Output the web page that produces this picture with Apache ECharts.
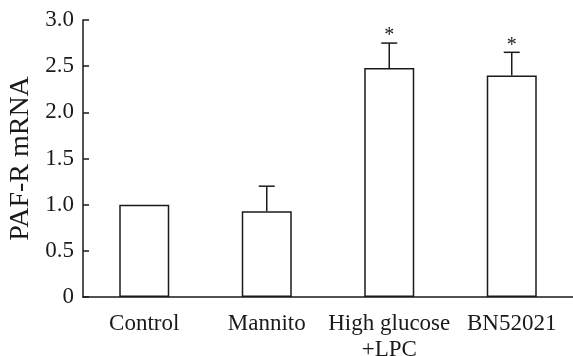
<!DOCTYPE html>
<html>
<head>
<meta charset="utf-8">
<script src="https://cdn.jsdelivr.net/npm/echarts@6/dist/echarts.min.js"></script>
<style>
  html, body { margin: 0; padding: 0; background: #fff; }
  #chart { width: 573px; height: 356px; }
</style>
</head>
<body>
<div id="chart"></div>
<script>
const categories = ['Control', 'Mannito', 'High glucose\n+LPC', 'BN52021'];
const means = [1.0, 0.93, 2.48, 2.40];
const errors = [0, 0.27, 0.27, 0.25];
const marks = ['', '', '*', '*'];

const INK = '#1a1a1a';
const FONT = '"Liberation Serif", "Times New Roman", serif';

const chart = echarts.init(document.getElementById('chart'), null, { renderer: 'canvas' });

chart.setOption({
  animation: false,
  backgroundColor: '#fff',
  grid: { left: 83, right: 0, top: 20, bottom: 59, containLabel: false, outerBoundsMode: 'none' },
  xAxis: {
    type: 'category',
    data: categories,
    boundaryGap: true,
    axisLine: { lineStyle: { color: INK, width: 1.5 } },
    axisTick: { inside: true, length: 6, lineStyle: { color: INK, width: 1.5 } },
    axisLabel: { color: INK, fontFamily: FONT, fontSize: 23, lineHeight: 26, margin: 14, interval: 0 },
    splitLine: { show: false }
  },
  yAxis: {
    type: 'value',
    min: 0,
    max: 3,
    interval: 0.5,
    name: 'PAF-R mRNA',
    nameLocation: 'middle',
    nameGap: 48,
    nameTextStyle: { color: INK, fontFamily: FONT, fontSize: 28 },
    axisLine: { show: true, lineStyle: { color: INK, width: 1.5 } },
    axisTick: { show: true, inside: true, length: 6, lineStyle: { color: INK, width: 1.5 } },
    axisLabel: {
      color: INK, fontFamily: FONT, fontSize: 23, margin: 9,
      formatter: (v) => (v === 0 ? '0' : v.toFixed(1))
    },
    splitLine: { show: false }
  },
  series: [
    {
      type: 'bar',
      data: means,
      barWidth: 50,
      itemStyle: { color: '#fff', borderColor: INK, borderWidth: 1.5 },
      z: 2
    },
    {
      type: 'custom',
      z: 3,
      data: means.map((m, i) => [i, m, errors[i]]),
      renderItem: (params, api) => {
        const i = api.value(0);
        const m = api.value(1);
        const e = api.value(2);
        const mark = marks[i];
        const base = api.coord([i, m]);
        const top = api.coord([i, m + e]);
        const children = [];
        if (e > 0) {
          children.push({
            type: 'line',
            shape: { x1: base[0], y1: base[1], x2: top[0], y2: top[1] },
            style: { stroke: INK, lineWidth: 1.5 }
          });
          children.push({
            type: 'line',
            shape: { x1: top[0] - 8, y1: top[1], x2: top[0] + 8, y2: top[1] },
            style: { stroke: INK, lineWidth: 1.5 }
          });
        }
        if (mark) {
          children.push({
            type: 'text',
            style: {
              text: mark, x: top[0], y: top[1] + 3,
              align: 'center', verticalAlign: 'bottom',
              fill: INK, font: '20px ' + FONT
            }
          });
        }
        return { type: 'group', children };
      }
    }
  ]
});
</script>
</body>
</html>
